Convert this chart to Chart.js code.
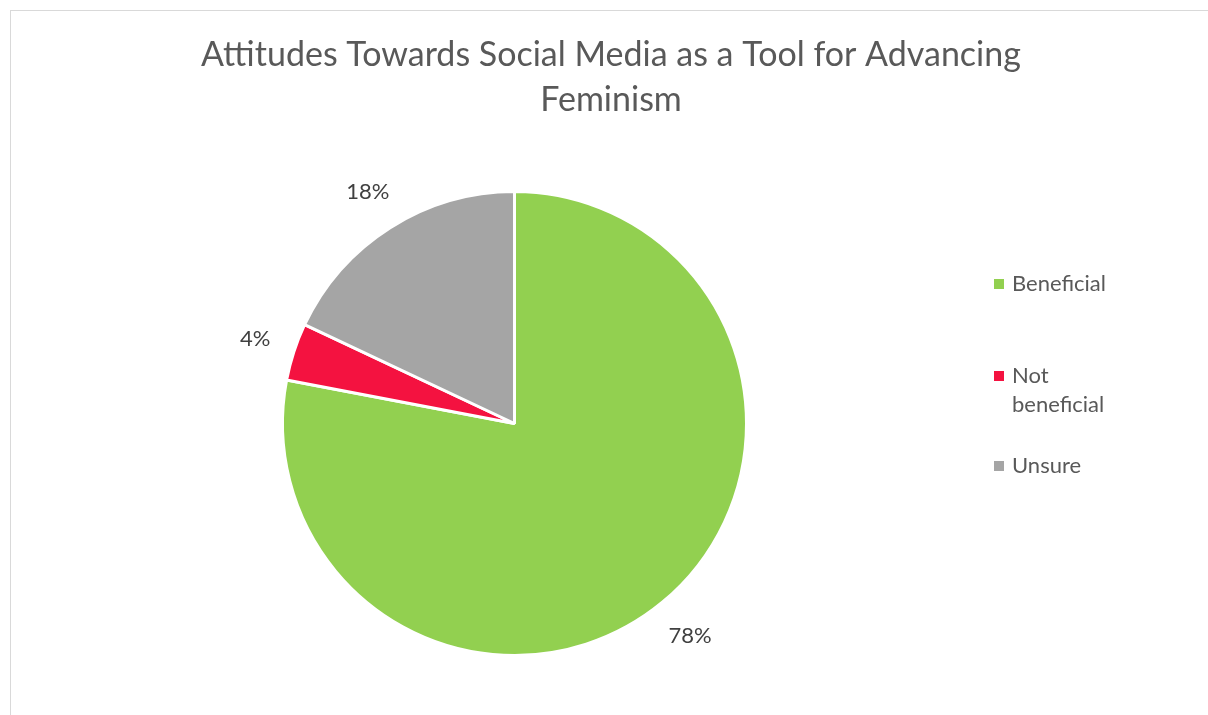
<!DOCTYPE html>
<html>
<head>
<meta charset="utf-8">
<script src="https://cdn.jsdelivr.net/npm/chart.js@4"></script>
<style>
  html, body { margin: 0; padding: 0; background: #fff; }
  #wrap { position: relative; width: 1208px; height: 715px; overflow: hidden; }
  #frame { position: absolute; left: 10px; top: 10px; width: 1210px; height: 720px; border: 1px solid #d9d9d9; box-sizing: border-box; }
  #myPieChart { position: absolute; left: 0; top: 0; }
  #chart-legend { position: absolute; left: 994px; top: 268px; font-family: Lato, sans-serif; font-size: 22px; color: #595959; line-height: 29px; }
</style>
</head>
<body>
<div id="wrap">
  <div id="frame"></div>
  <canvas id="myPieChart" width="1208" height="715"></canvas>
  <div id="chart-legend"></div>
</div>
<script>
var labels = ['Beneficial', 'Not beneficial', 'Unsure'];
var legendLines = [['Beneficial'], ['Not', 'beneficial'], ['Unsure']];
var values = [78, 4, 18];
var colors = ['#92D050', '#F41240', '#A5A5A5'];
var titleLines = ['Attitudes Towards Social Media as a Tool for Advancing', 'Feminism'];

var outsideLabels = {
    id: 'outsideLabels',
    afterDatasetsDraw: function(chart) {
        var ctx = chart.ctx;
        var meta = chart.getDatasetMeta(0);
        ctx.save();
        ctx.font = '22px Lato, sans-serif';
        ctx.fillStyle = '#404040';
        ctx.textAlign = 'center';
        ctx.textBaseline = 'middle';
        meta.data.forEach(function(arc, i) {
            var p = arc.getProps(['x', 'y', 'startAngle', 'endAngle', 'outerRadius'], true);
            var mid = (p.startAngle + p.endAngle) / 2;
            var txt = values[i] + '%';
            var w = ctx.measureText(txt).width;
            var h = 15;
            var c = Math.cos(mid), s = Math.sin(mid);
            var d = p.outerRadius + 24 + Math.abs(c) * w / 2 + Math.abs(s) * h / 2;
            ctx.fillText(txt, p.x + c * d, p.y + s * d);
        });
        ctx.restore();
    }
};

var ctx = document.getElementById('myPieChart').getContext('2d');
var myPieChart = new Chart(ctx, {
    type: 'pie',
    data: {
        labels: labels,
        datasets: [{
            data: values,
            backgroundColor: colors,
            borderColor: '#ffffff',
            borderWidth: 3
        }]
    },
    options: {
        responsive: false,
        maintainAspectRatio: false,
        animation: false,
        layout: {
            padding: { top: 190, bottom: 58, left: 281, right: 460 }
        },
        plugins: {
            legend: { display: false },
            tooltip: { enabled: false },
            title: { display: false }
        }
    },
    plugins: [outsideLabels, {
        id: 'titleText',
        afterDraw: function(chart) {
            var c = chart.ctx;
            c.save();
            c.font = '34px Lato, sans-serif';
            c.fillStyle = '#595959';
            c.textAlign = 'center';
            c.textBaseline = 'alphabetic';
            c.fillText(titleLines[0], 611, 66);
            c.fillText(titleLines[1], 611, 111);
            c.restore();
        }
    }]
});

var legendDiv = document.getElementById('chart-legend');
var tops = [0, 92, 182];
legendLines.forEach(function(lines, index) {
    var item = document.createElement('div');
    item.style.position = 'absolute';
    item.style.left = '0px';
    item.style.top = tops[index] + 'px';
    item.style.whiteSpace = 'nowrap';
    item.innerHTML = '<span style="position:absolute;left:0;top:11px;width:10px;height:10px;background:' + colors[index] + '"></span>' +
        '<div style="margin-left:18px">' + lines.join('<br>') + '</div>';
    legendDiv.appendChild(item);
});
</script>
</body>
</html>
